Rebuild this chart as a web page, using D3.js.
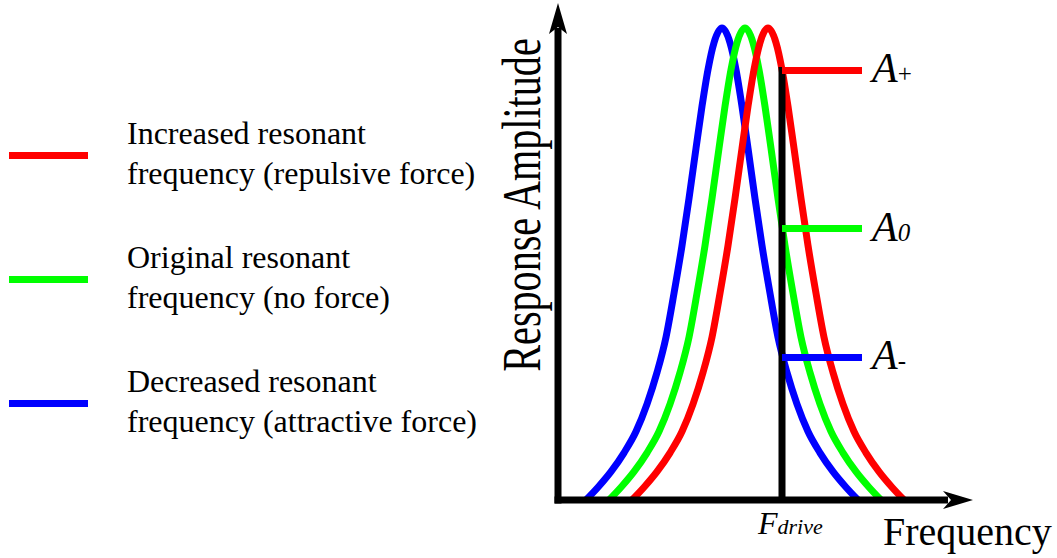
<!DOCTYPE html>
<html>
<head>
<meta charset="utf-8">
<script src="https://cdn.jsdelivr.net/npm/d3@7"></script>
<style>
  html, body { margin: 0; padding: 0; background: #ffffff; }
  svg { display: block; }
  text { font-family: "Liberation Serif", "Times New Roman", serif; fill: #000; }
</style>
</head>
<body>
<svg id="chart" width="1057" height="558"></svg>
<script>
// Resonance curves (frequency in arbitrary units, amplitude normalised to the peak)
const freqIncreased = [74, 86, 99, 112, 124, 135, 145, 154, 162, 170, 177, 184, 190, 196, 202, 210, 218, 224, 230, 236, 243, 250, 258, 266, 275, 285, 296, 308, 321, 334, 346];
const ampIncreased  = [0, 0.027, 0.06, 0.10, 0.145, 0.203, 0.27, 0.345, 0.438, 0.539, 0.639, 0.745, 0.834, 0.912, 0.969, 1,
                       0.969, 0.912, 0.834, 0.745, 0.639, 0.539, 0.438, 0.345, 0.27, 0.203, 0.145, 0.10, 0.06, 0.027, 0];

const freqOriginal  = [51, 63, 76, 89, 101, 112, 122, 131, 139, 147, 154, 161, 167, 173, 179, 187, 195, 201, 207, 213, 220, 227, 235, 243, 252, 262, 273, 285, 298, 311, 323];
const ampOriginal   = [0, 0.027, 0.06, 0.10, 0.145, 0.203, 0.27, 0.345, 0.438, 0.539, 0.639, 0.745, 0.834, 0.912, 0.969, 1,
                       0.969, 0.912, 0.834, 0.745, 0.639, 0.539, 0.438, 0.345, 0.27, 0.203, 0.145, 0.10, 0.06, 0.027, 0];

const freqDecreased = [28, 40, 53, 66, 78, 89, 99, 108, 116, 124, 131, 138, 144, 150, 156, 164, 172, 178, 184, 190, 197, 204, 212, 220, 229, 239, 250, 262, 275, 288, 300];
const ampDecreased  = [0, 0.027, 0.06, 0.10, 0.145, 0.203, 0.27, 0.345, 0.438, 0.539, 0.639, 0.745, 0.834, 0.912, 0.969, 1,
                       0.969, 0.912, 0.834, 0.745, 0.639, 0.539, 0.438, 0.345, 0.27, 0.203, 0.145, 0.10, 0.06, 0.027, 0];

// Drive frequency and the response amplitude of each curve there
const driveFreq = 224;
const levelSubscripts = ["+", "0", "-"];
const levelValues = [0.91, 0.575, 0.302];

const legendLabels = [
  ["Increased resonant", "frequency (repulsive force)"],
  ["Original resonant", "frequency (no force)"],
  ["Decreased resonant", "frequency (attractive force)"]
];
const seriesColors = ["#ff0000", "#00ff00", "#0000ff"];

const xAxisLabel = "Frequency";
const yAxisLabel = "Response Amplitude";

// ---------------------------------------------------------------
const svg = d3.select("#chart");

const x = d3.scaleLinear().domain([0, 415]).range([558, 973]);
const y = d3.scaleLinear().domain([0, 1]).range([500, 28]);

const series = [
  { freq: freqIncreased, amp: ampIncreased, color: seriesColors[0] },
  { freq: freqOriginal,  amp: ampOriginal,  color: seriesColors[1] },
  { freq: freqDecreased, amp: ampDecreased, color: seriesColors[2] }
].map(s => ({ color: s.color, points: s.freq.map((f, i) => [f, s.amp[i]]) }));

const line = d3.line()
  .x(d => x(d[0]))
  .y(d => y(d[1]))
  .curve(d3.curveMonotoneX);

const STROKE = 7;

// Curves (decreased underneath, increased on top)
svg.append("g")
  .selectAll("path")
  .data(series.slice().reverse())
  .join("path")
  .attr("d", d => line(d.points))
  .attr("fill", "none")
  .attr("stroke", d => d.color)
  .attr("stroke-width", STROKE)
  .attr("stroke-linejoin", "round");

// Axes with arrow heads
const x0 = x(0), y0 = y(0);
const axes = svg.append("g");
axes.append("line")
  .attr("x1", x0).attr("y1", y0 + 3.5)
  .attr("x2", x0).attr("y2", 28)
  .attr("stroke", "#000").attr("stroke-width", STROKE);
axes.append("path")
  .attr("d", `M${x0},3 L${x0 + 9},34 L${x0},27 L${x0 - 9},34 Z`)
  .attr("fill", "#000");
axes.append("line")
  .attr("x1", x0 - 3.5).attr("y1", y0)
  .attr("x2", x.range()[1] - 25).attr("y2", y0)
  .attr("stroke", "#000").attr("stroke-width", STROKE);
const xt = x.range()[1];
axes.append("path")
  .attr("d", `M${xt},${y0} L${xt - 30},${y0 - 9} L${xt - 22},${y0} L${xt - 30},${y0 + 9} Z`)
  .attr("fill", "#000");

// Drive frequency marker
const xd = x(driveFreq);
svg.append("line")
  .attr("x1", xd).attr("x2", xd)
  .attr("y1", y0)
  .attr("y2", y(d3.max(levelValues)) - STROKE / 2)
  .attr("stroke", "#000").attr("stroke-width", STROKE);

// Amplitude levels at the drive frequency
const levels = svg.append("g")
  .selectAll("g")
  .data(levelValues.map((v, i) => ({ v, sub: levelSubscripts[i], color: seriesColors[i] })))
  .join("g");
levels.append("line")
  .attr("x1", xd).attr("x2", xd + 80)
  .attr("y1", d => y(d.v)).attr("y2", d => y(d.v))
  .attr("stroke", d => d.color).attr("stroke-width", STROKE);
const lvlText = levels.append("text")
  .attr("x", xd + 90)
  .attr("y", d => y(d.v) + 12)
  .attr("font-style", "italic")
  .attr("font-size", 42);
lvlText.append("tspan").text("A");
lvlText.append("tspan")
  .attr("font-size", 25)
  .attr("font-style", d => d.sub === "0" ? "italic" : "normal")
  .text(d => d.sub);

// F_drive label
const fd = svg.append("text")
  .attr("x", xd - 24).attr("y", 534)
  .attr("font-style", "italic")
  .attr("font-size", 32);
fd.append("tspan").text("F");
fd.append("tspan").attr("font-size", 22).text("drive");

// Axis titles
svg.append("text")
  .attr("x", 883).attr("y", 545)
  .attr("font-size", 40)
  .text(xAxisLabel);

svg.append("text")
  .attr("transform", "translate(540,205) rotate(-90) scale(0.73,1)")
  .attr("text-anchor", "middle")
  .attr("font-size", 55)
  .text(yAxisLabel);

// Legend
const legend = svg.append("g")
  .selectAll("g")
  .data(legendLabels.map((lines, i) => ({ lines, color: seriesColors[i], i })))
  .join("g")
  .attr("transform", d => `translate(0,${155.5 + d.i * 124})`);
legend.append("line")
  .attr("x1", 9).attr("x2", 88)
  .attr("y1", 0).attr("y2", 0)
  .attr("stroke", d => d.color).attr("stroke-width", STROKE);
legend.append("text")
  .attr("x", 127)
  .attr("font-size", 32)
  .selectAll("tspan")
  .data(d => d.lines)
  .join("tspan")
  .attr("x", 127)
  .attr("y", (d, j) => -11.5 + j * 39.5)
  .text(d => d);
</script>
</body>
</html>
